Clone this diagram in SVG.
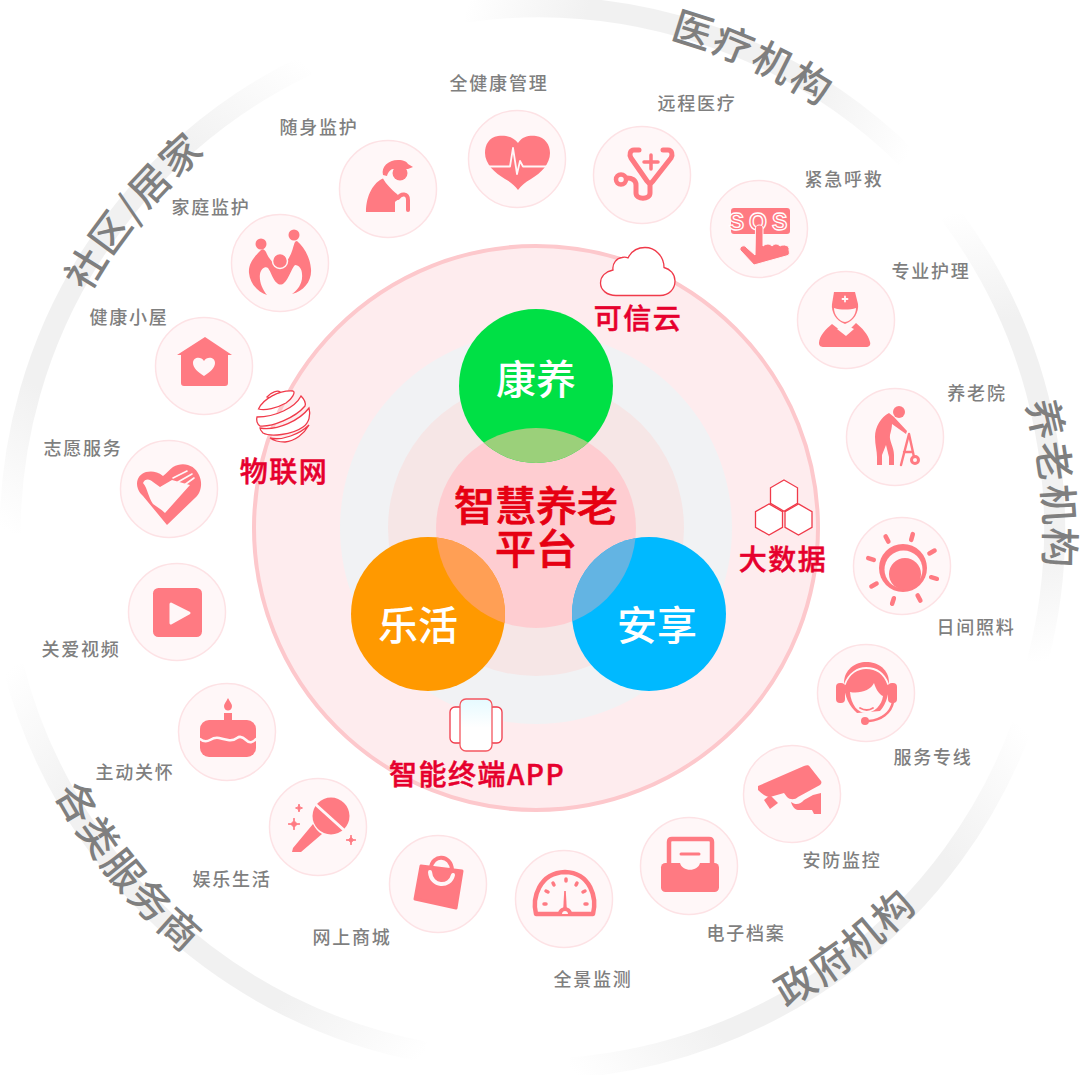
<svg xmlns="http://www.w3.org/2000/svg" width="1080" height="1075" viewBox="0 0 1080 1075">
<defs>
<style>
text{font-family:"Noto Sans CJK SC","Noto Sans",sans-serif}
.lb{font-size:18px;fill:#7f7f7f;text-anchor:middle;letter-spacing:1.8px;font-weight:500}
.sec{font-size:40px;fill:#7f7f7f;text-anchor:middle;letter-spacing:2px;font-weight:500}
.tech{font-size:28px;fill:#e6002d;text-anchor:middle;letter-spacing:1.500px;font-weight:500;stroke:#e6002d;stroke-width:.5px}
.core{font-size:41px;fill:#e60012;text-anchor:middle;font-weight:500;stroke:#e60012;stroke-width:.7px}
.dom{font-size:40px;fill:#fff;text-anchor:middle;font-weight:500}
.nc{fill:#fff7f8;stroke:#fde2e5;stroke-width:1.5}
.i{fill:#ff7a82}
.w{fill:#fff7f8}
.s{fill:none;stroke:#ff7a82;stroke-linecap:round;stroke-linejoin:round}
.wl{fill:none;stroke:#fff7f8;stroke-linecap:round;stroke-linejoin:round}
.ring{fill:none;stroke-width:21}
.ol{fill:#fff;stroke:#f03a4a;stroke-width:1.3}
</style>
<linearGradient id="g1" gradientUnits="userSpaceOnUse" x1="10" y1="533" x2="307" y2="65"><stop offset="0" stop-color="#fff"/><stop offset=".25" stop-color="#f1f1f1"/><stop offset=".75" stop-color="#f1f1f1"/><stop offset="1" stop-color="#fff"/></linearGradient>
<linearGradient id="g2" gradientUnits="userSpaceOnUse" x1="465" y1="12" x2="907" y2="158"><stop offset="0" stop-color="#fff"/><stop offset=".25" stop-color="#f1f1f1"/><stop offset=".75" stop-color="#f1f1f1"/><stop offset="1" stop-color="#fff"/></linearGradient>
<linearGradient id="g3" gradientUnits="userSpaceOnUse" x1="950" y1="214" x2="1037" y2="663"><stop offset="0" stop-color="#fff"/><stop offset=".25" stop-color="#f1f1f1"/><stop offset=".75" stop-color="#f1f1f1"/><stop offset="1" stop-color="#fff"/></linearGradient>
<linearGradient id="g4" gradientUnits="userSpaceOnUse" x1="1022" y1="726" x2="570" y2="1068"><stop offset="0" stop-color="#fff"/><stop offset=".25" stop-color="#f1f1f1"/><stop offset=".75" stop-color="#f1f1f1"/><stop offset="1" stop-color="#fff"/></linearGradient>
<linearGradient id="g5" gradientUnits="userSpaceOnUse" x1="13" y1="666" x2="425" y2="1052"><stop offset="0" stop-color="#fff"/><stop offset=".25" stop-color="#f1f1f1"/><stop offset=".75" stop-color="#f1f1f1"/><stop offset="1" stop-color="#fff"/></linearGradient>
<linearGradient id="ph" x1="0" y1="0" x2="0" y2="1"><stop offset="0" stop-color="#e6faff"/><stop offset=".55" stop-color="#fff"/></linearGradient>
<clipPath id="cc"><circle cx="536" cy="528" r="100"/></clipPath>
<polygon id="hex" class="ol" points="0,-15.6 13.5,-7.8 13.5,7.8 0,15.6 -13.5,7.8 -13.5,-7.8"/>
<path id="p1" d="M23 543A507 507 0 0 1 441 43"/>
<path id="p2" d="M394 39A520 520 0 0 1 1002 316"/>
<path id="p3" d="M889 172A514 514 0 0 1 960 824"/>
<path id="p4" d="M509 1072A533 533 0 0 0 1052 655"/>
<path id="p5" d="M-8 531A540 540 0 0 0 429 1070"/>
</defs>
<rect width="1080" height="1075" fill="#fff"/>
<g id="connectors">
<path class="ring" stroke="url(#g1)" d="M10 533A521 521 0 0 1 307 65"/>
<path class="ring" stroke="url(#g2)" d="M465 12A526 526 0 0 1 907 158"/>
<path class="ring" stroke="url(#g3)" d="M950 214A525 525 0 0 1 1037 663"/>
<path class="ring" stroke="url(#g4)" d="M1022 726A526 526 0 0 1 570 1068"/>
<path class="ring" stroke="url(#g5)" d="M13 666A526 526 0 0 0 425 1052"/>
</g>
<g id="sections">
<text class="sec"><textPath href="#p1" startOffset="50%">社区/居家</textPath></text>
<text class="sec"><textPath href="#p2" startOffset="50%">医疗机构</textPath></text>
<text class="sec"><textPath href="#p3" startOffset="50%">养老机构</textPath></text>
<text class="sec"><textPath href="#p4" startOffset="50%">政府机构</textPath></text>
<text class="sec"><textPath href="#p5" startOffset="50%">各类服务商</textPath></text>
</g>
<g id="platform">
<circle cx="536" cy="528" r="282" fill="#feecee" stroke="#fdc8cc" stroke-width="4"/>
<circle cx="536" cy="528" r="196" fill="#f1f2f4"/>
<circle cx="536" cy="528" r="148" fill="#f6e6e6"/>
<circle cx="536" cy="528" r="100" fill="#fecdd1"/>
</g>
<g id="node-kangyang"><circle cx="536" cy="386" r="77" fill="#00e045"/><circle cx="536" cy="386" r="77" fill="#9bd07a" clip-path="url(#cc)"/><text class="dom" x="536" y="394">康养</text></g>
<g id="node-lehuo"><circle cx="428" cy="614" r="77" fill="#f90"/><circle cx="428" cy="614" r="77" fill="#ff9f55" clip-path="url(#cc)"/><text class="dom" x="418" y="640">乐活</text></g>
<g id="node-anxiang"><circle cx="649" cy="614" r="77" fill="#00b9ff"/><circle cx="649" cy="614" r="77" fill="#63b4e3" clip-path="url(#cc)"/><text class="dom" x="657" y="640">安享</text></g>
<g id="node-core"><text class="core" x="536" y="521">智慧养老</text><text class="core" x="536" y="564">平台</text></g>

<g id="tech-cloud"><path class="ol" d="M616 295.500H660C669 295.500 675 289 675 281C675 274 670 269 664 267.500C664 256 655 247.500 645 247.500C637 247.500 631 252 628 258C626 257 624 257 622 257.500C617 258 612 263 613 270C606 271.500 600.500 276 600.500 283C600.500 290 607 295.500 616 295.500Z"/><text class="tech" x="638" y="329">可信云</text></g>
<g id="tech-iot"><g class="ol"><path d="M267 397C271 392 278 390 280 392C278 396 272 399 267 397Z"/><path d="M258.500 409C263 399 279 390 293 391C296 392 292 399 286 403C277 408 265 411 258.500 409Z"/><path d="M257 417C275 417 295 408 301 396C305 400 306 403 305 406C295 418 272 427 260 426C257 424 256 420 257 417Z"/><path d="M260 428C278 431 300 420 309 408C311 415 309 423 303 427C292 435 270 437 263 433C261 431 260 429 260 428Z"/><path d="M270 438C282 441 300 434 309 425C304 434 295 441 285 442C279 442 274 441 270 438Z"/></g><text class="tech" x="284" y="482">物联网</text></g>
<g id="tech-data"><use href="#hex" x="784" y="495.600"/><use href="#hex" x="769" y="519.500"/><use href="#hex" x="798.500" y="519.500"/><text class="tech" x="783" y="570">大数据</text></g>
<g id="tech-app"><rect class="ol" x="450" y="707" width="14" height="36" rx="5"/><rect class="ol" x="488" y="707" width="14" height="36" rx="5"/><rect x="460" y="699" width="32" height="52" rx="6" fill="url(#ph)" stroke="#f5565f" stroke-width="1.300"/><text class="tech" x="477" y="785">智能终端APP</text></g>

<g id="n-health"><circle class="nc" cx="517" cy="159" r="48.500"/><g transform="translate(517 159)"><path class="i" d="M1 -16C-5 -24 -14 -23.500 -19 -23C-28 -22 -32 -14 -32 -6C-32 5 -22 14 -12 20C-6 23 -2 27 1 31C4 27 8 23 14 20C24 14 33 5 33 -6C33 -14 28 -22 19 -23C12 -23.500 6 -23 1 -16Z"/><path class="wl" stroke-width="1.800" d="M-30 7.500H-7L-4 -11L0 15L3 2L6 7.500H31"/></g><text class="lb" x="499" y="90">全健康管理</text></g>
<g id="n-carry"><circle class="nc" cx="388" cy="189" r="48.500"/><g transform="translate(388 189)"><path class="i" d="M-22 23C-22 6 -14 -7 -5 -10.500C-2 -5 4 1 9 5C11 7 11 11 8 12L7 13V23Z"/><path class="s" stroke-width="4" d="M10 9C13 4 20 4 20 11V21"/><circle class="i" cx="12" cy="-16" r="7.500"/><path class="i" d="M-5 -14C-7 -22 0 -29 10 -29C16 -29 19 -27 20 -25L25 -22L20 -20H5C3 -20 0 -17 -1 -13Z"/></g><text class="lb" x="319" y="134">随身监护</text></g>
<g id="n-remote"><circle class="nc" cx="642" cy="175" r="48.500"/><g transform="translate(642 175)"><path class="s" stroke-width="5" d="M-3 -25H-8C-12 -25 -13 -20 -11 -17L5 6C7 9 9 9 11 6L29 -17C31 -20 30 -25 26 -25H21"/><path class="s" stroke-width="5" d="M8 8V18C8 25 -6 25 -6 18V10C-6 5 -10 3 -15 3"/><circle class="s" stroke-width="4.500" cx="-21" cy="4.500" r="5"/><path class="s" stroke-width="3.500" d="M9 -20V-6M2 -13H16"/></g><text class="lb" x="697" y="110">远程医疗</text></g>
<g id="n-sos"><circle class="nc" cx="759" cy="229" r="48.500"/><g transform="translate(759 229)"><rect class="i" x="-28" y="-21" width="59" height="26" rx="3"/><text x="1.500" y="1" font-size="23" font-weight="700" text-anchor="middle" letter-spacing="5" fill="#ff7a82" stroke="#fff" stroke-width="1.300" style="font-family:'Liberation Sans',sans-serif">SOS</text><path class="i" stroke="#fff7f8" stroke-width="1" d="M-3.500 -1C-3.500 -5 4 -5 4 -1V17C8 14 11 15 13 17C16 14 19 15 21 17C24 15 31 16 30 21C31 24 30 26 29 26.500L-5 36L-19 21C-20 18 -15 15 -13 18L-4 26Z"/></g><text class="lb" x="844" y="186">紧急呼救</text></g>
<g id="n-nurse"><circle class="nc" cx="846" cy="320" r="48.500"/><g transform="translate(846 320)"><path class="i" d="M-14 4C-20 9 -27 16 -27 23C-27 26 -25 27 -22 27H20C23 27 25 25 24 22C22 14 16 8 10 3L-1 14Z"/><path class="w" d="M-9 9L0 5L8 9L0 16Z"/><path class="i" d="M-12 -28H9L12 -16C13 -8 8 1 -1 4C-10 1 -15 -8 -14 -16Z"/><path class="w" d="M-12 -12C-6 -10 4 -10 10 -12C10 -5 5 1 -1 2C-7 1 -12 -5 -12 -12Z"/><path class="wl" stroke-width="1.800" d="M-1 -23.500V-18.500M-3.500 -21H1.500"/></g><text class="lb" x="931" y="278">专业护理</text></g>
<g id="n-home"><circle class="nc" cx="895" cy="437" r="48.500"/><g transform="translate(895 437)"><circle class="i" cx="4" cy="-25" r="6"/><path class="i" d="M-6 -24C-14 -20 -20 -10 -20 0C-20 8 -18 14 -18 20V28H-13V18L-9 8L-6 20V28H-1V18C-1 10 -6 4 -5 -2C-4 -6 -3 -10 -3 -13L11 -3L12 -6L-1 -20Z"/><path class="s" stroke-width="2.400" d="M6 28L14 -3L19 20M9 15H18"/><circle class="s" stroke-width="3" cx="20" cy="23" r="3.500"/></g><text class="lb" x="977" y="400">养老院</text></g>
<g id="n-day"><circle class="nc" cx="902" cy="566" r="48.500"/><g transform="translate(902 566)"><circle class="i" cx="1" cy="2" r="24"/><circle class="w" cx="1.500" cy="3.500" r="19"/><circle class="i" cx="3" cy="8" r="16"/><path class="s" stroke-width="4.500" d="M-13.600 -24.400L-16.400 -29.600M9.200 -26.100L10.800 -31.900M27.400 -12.500L32.600 -15.500M29.100 11.200L34.900 12.800M15.600 29.400L18.400 34.600M-8.100 32.200L-9.900 37.800M-25.400 17.600L-30.600 20.400M-28.200 -6.100L-33.800 -7.900"/></g><text class="lb" x="976" y="634">日间照料</text></g>
<g id="n-line"><circle class="nc" cx="866" cy="693" r="48.500"/><g transform="translate(866 693)"><path class="i" d="M-22 -10C-22 -24 -10 -31 0 -31C12 -31 23 -24 23 -10C23 0 21 10 14 18L-9 20C-16 14 -22 4 -22 -10Z"/><path class="w" d="M-16 -1C-6 1 5 -3 8 -10C10 -3 14 2 17 3C16 12 8 20 0 20C-8 20 -15 12 -16 -1Z"/><path class="wl" stroke-width="1.800" d="M-21 -9C-17 -20 -8 -25 0 -25C10 -25 18 -20 22 -9"/><path class="s" stroke-width="1.800" d="M-6 15Q1 19 7 15"/><rect class="i" x="-30" y="-10" width="9" height="20" rx="4"/><rect class="i" x="22" y="-10" width="9" height="20" rx="4"/><path class="s" stroke-width="2.500" d="M27 9C25 20 15 27 3 28"/><circle class="i" cx="-1" cy="28" r="4"/></g><text class="lb" x="933" y="764">服务专线</text></g>
<g id="n-cam"><circle class="nc" cx="792" cy="794" r="48.500"/><g transform="translate(792 794)"><path class="i" d="M-34 -8L12 -28C15 -29 17 -29 18 -27L29 -13C30 -11 29 -10 28 -9L6 3C3 6 -2 6 -5 3L-8 -1L-22 3C-26 3 -30 0 -34 -4Z"/><path class="i" d="M-28 6L-22 1L-14 9L-22 15Z"/><path class="i" d="M-1 8C3 11 8 11 12 6L21 1L29 -1V20H22L20 16H6C3 16 0 12 -1 8Z"/></g><text class="lb" x="842" y="867">安防监控</text></g>
<g id="n-file"><circle class="nc" cx="689" cy="866" r="48.500"/><g transform="translate(689 866)"><path class="s" stroke-width="4.500" d="M-20 -2V-24C-20 -26 -19 -27 -17 -27H20C22 -27 23 -26 23 -24V-2"/><rect class="i" x="-28" y="-3" width="58" height="29" rx="4.500"/><path class="w" d="M-9 -3C-7 6 9 6 11 -3Z"/><path class="s" stroke-width="3" d="M-8 -12H10"/></g><text class="lb" x="746" y="940">电子档案</text></g>
<g id="n-gauge"><circle class="nc" cx="564" cy="899" r="48.500"/><g transform="translate(564 899)"><path class="s" stroke-width="4.500" d="M-28 15C-32 -1 -25 -26 1 -27C27 -26 33 -1 29 15Z"/><path class="s" stroke-width="3.500" d="M2 -20V-18M-11 -16L-10 -14M13 -16L12 -14M-18 -8L-16 -7M21 -8L19 -7M-20 5H-18M23 5H21"/><path class="i" d="M0.200 -8L1.800 -8L2.800 10H-0.800Z"/><path class="i" d="M-6 15C-6 6 8 6 8 15Z"/><path class="w" d="M-2 15C-2 11 4 11 4 15Z"/></g><text class="lb" x="593" y="986">全景监测</text></g>
<g id="n-shop"><circle class="nc" cx="438" cy="884" r="48.500"/><g transform="translate(438 884)"><path class="s" stroke-width="4" d="M-7 -16C-6 -30 13 -30 14 -14"/><path class="i" stroke="#ff7a82" stroke-width="3" stroke-linejoin="round" d="M-17 -18L24 -13L18 24L-23 15Z"/><path class="wl" stroke-width="4" d="M-8 -12C-7 3 12 4 15 -9"/></g><text class="lb" x="352" y="944">网上商城</text></g>
<g id="n-mic"><circle class="nc" cx="318" cy="827" r="48.500"/><g transform="translate(318 827)"><circle class="i" cx="13" cy="-11" r="18.500"/><path class="wl" stroke-width="3" d="M-4 -24L27 4"/><path class="i" d="M-5 -3L-25 21L-26 25L-17 25L4 7C0 5 -3 1 -5 -3Z"/><path class="i" d="M-19 -23Q-19 -19 -15.500 -19Q-19 -19 -19 -15Q-19 -19 -22.500 -19Q-19 -19 -19 -23Z M-24 -9Q-24 -3 -18 -3Q-24 -3 -24 3Q-24 -3 -30 -3Q-24 -3 -24 -9Z M33 8Q33 13 38 13Q33 13 33 18Q33 13 28 13Q33 13 33 8Z" stroke="#ff7a82" stroke-width="1"/></g><text class="lb" x="232" y="886">娱乐生活</text></g>
<g id="n-care"><circle class="nc" cx="227" cy="732" r="48.500"/><g transform="translate(227 732)"><path class="i" d="M1 -34C-1 -30 -3 -28 -3 -26C-3 -23 -1 -21.500 1 -21.500C3 -21.500 5 -23 5 -26C5 -28 3 -30 1 -34Z"/><rect class="i" x="-3" y="-19" width="8" height="10"/><rect class="i" x="-27" y="-12" width="56" height="37" rx="9"/><path class="wl" stroke-width="2.500" d="M-27 7Q-22 11 -17 8T-8 6T1 8T10 6T19 8T29 7"/></g><text class="lb" x="135" y="779">主动关怀</text></g>
<g id="n-video"><circle class="nc" cx="177" cy="612" r="48.500"/><g transform="translate(177 612)"><rect class="i" x="-24" y="-24" width="49" height="49" rx="5.500"/><path fill="#fff7f8" stroke="#fff7f8" stroke-width="3" stroke-linejoin="round" d="M-6 -8L12 1L-6 11Z"/></g><text class="lb" x="81" y="656">关爱视频</text></g>
<g id="n-vol"><circle class="nc" cx="169" cy="489" r="48.500"/><g transform="translate(169 489)"><path class="i" d="M-6 -13C-12 -18 -18 -18 -23 -17C-30 -15 -34 -8 -31 0C-30 3 -28 5 -26 7L-2 36L26 9C32 4 34 -6 30 -14C26 -24 14 -28 4 -22C1 -20 -3 -15 -6 -13Z"/><path class="w" d="M-26 -6C-24 -11 -19 -10 -16 -7L-9 -2L3 -9L21 -4L-4 24C-8 20 -12 18 -16 15C-21 8 -21 0 -26 -6Z"/><path class="wl" stroke-width="1.600" d="M4 -11L18 -18M9 -7L23 -15M14 -3L25 -11"/></g><text class="lb" x="83" y="455">志愿服务</text></g>
<g id="n-house"><circle class="nc" cx="204" cy="366" r="48.500"/><g transform="translate(204 366)"><path class="i" d="M1 -29L28 -11L24 -11V17C24 19 23 20 21 20H-20C-22 20 -23 19 -23 17V-11L-27 -11Z"/><path class="w" d="M0 10C-6 6 -11 2 -11 -3C-11 -9 -3 -10 0 -5C3 -10 11 -9 11 -3C11 2 6 6 0 10Z"/></g><text class="lb" x="129" y="324">健康小屋</text></g>
<g id="n-family"><circle class="nc" cx="280" cy="263" r="48.500"/><g transform="translate(280 263)"><path class="i" d="M-19 -13C-24 -8 -32 0 -31 10C-30 21 -22 29 -13 32C-18 26 -21 18 -20 11C-19 6 -15 3 -12 5C-9 9 -7 17 -3 20C-1 22 2 22 4 20C9 16 11 6 15 2C19 2 22 6 22 11C23 20 18 27 12 31C24 28 32 18 31 6C30 -6 24 -16 17 -22C14 -22 14 -17 12 -12C10 -6 7 -2 5 1H-5C-9 -2 -12 -6 -14 -11C-15 -13 -17 -15 -19 -13Z"/><circle class="i" cx="-19" cy="-19" r="5.500"/><circle class="i" cx="14" cy="-28" r="5.500"/><circle class="i" stroke="#fff7f8" stroke-width="1.500" cx="0" cy="-2" r="7.500"/></g><text class="lb" x="211" y="214">家庭监护</text></g>
</svg>
